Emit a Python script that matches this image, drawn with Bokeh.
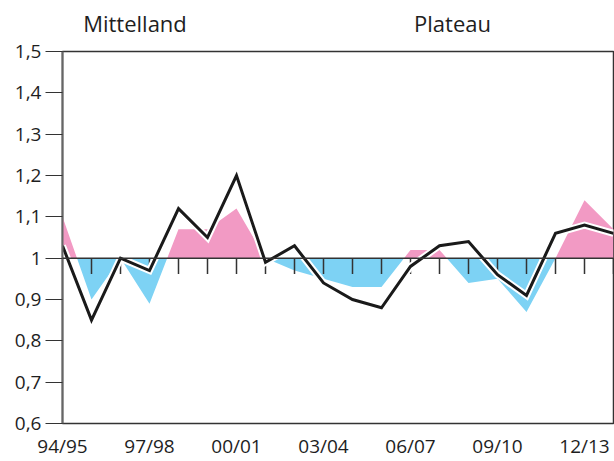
import numpy as np
from bokeh.plotting import figure
from bokeh.models import Range1d, FixedTicker, Span, ColumnDataSource, LinearAxis
from bokeh.embed import file_html
from bokeh.resources import INLINE

# ---- data ----
years = ["94/95", "95/96", "96/97", "97/98", "98/99", "99/00", "00/01", "01/02",
         "02/03", "03/04", "04/05", "05/06", "06/07", "07/08", "08/09", "09/10",
         "10/11", "11/12", "12/13", "13/14"]
mittelland = [1.10, 0.90, 1.00, 0.89, 1.07, 1.07, 1.12, 1.00, 0.97, 0.95,
              0.93, 0.93, 1.02, 1.02, 0.94, 0.95, 0.87, 1.00, 1.14, 1.07]
plateau = [1.03, 0.85, 1.00, 0.97, 1.12, 1.05, 1.20, 0.99, 1.03, 0.94,
           0.90, 0.88, 0.98, 1.03, 1.04, 0.96, 0.91, 1.06, 1.08, 1.06]
y_ticks = [0.6, 0.7, 0.8, 0.9, 1.0, 1.1, 1.2, 1.3, 1.4, 1.5]
y_tick_labels = ["0,6", "0,7", "0,8", "0,9", "1", "1,1", "1,2", "1,3", "1,4", "1,5"]
x_tick_idx = [0, 3, 6, 9, 12, 15, 18]
series_names = ["Mittelland", "Plateau"]
series_name_pos = [2.5, 13.45]
baseline = 1.0

PINK = "#F29AC4"
BLUE = "#7DD2F4"
TXT = "#1e1e1e"
FONT = "Open Sans"

xs = np.arange(len(years), dtype=float)
vs = np.array(mittelland)

# insert crossing points with baseline
xx, yy = [xs[0]], [vs[0]]
for i in range(1, len(xs)):
    a, b = vs[i - 1] - baseline, vs[i] - baseline
    if a * b < 0:
        t = a / (a - b)
        xx.append(xs[i - 1] + t)
        yy.append(baseline)
    xx.append(xs[i])
    yy.append(vs[i])
xx = np.array(xx)
yy = np.array(yy)

p = figure(width=614, height=461, output_backend="svg", toolbar_location=None,
           x_range=Range1d(0, len(years) - 1), y_range=Range1d(0.6, 1.5),
           min_border_left=62, min_border_right=1, min_border_top=51, min_border_bottom=35)
p.background_fill_color = "white"
p.border_fill_color = "white"
p.xgrid.visible = False
p.ygrid.visible = False
p.outline_line_color = "#333333"
p.outline_line_width = 1.5

src = ColumnDataSource(dict(x=xx, top=np.maximum(yy, baseline), bot=np.minimum(yy, baseline),
                            base=np.full(len(xx), baseline)))
p.varea(x="x", y1="base", y2="top", source=src, fill_color=PINK)
p.varea(x="x", y1="bot", y2="base", source=src, fill_color=BLUE)

# baseline line and year ticks
p.add_layout(Span(location=baseline, dimension="width", line_color="#333333", line_width=1.5))
tick_len = 16 / 416.0
p.segment(x0=xs[1:], y0=baseline, x1=xs[1:], y1=baseline - tick_len,
          line_color="#333333", line_width=1.5)

# line with white halo
p.line(xs, plateau, line_color="white", line_width=7, line_join="miter")
p.line(xs, plateau, line_color="#1a1a1a", line_width=3, line_join="miter")

# axes
ya = p.yaxis[0]
ya.ticker = FixedTicker(ticks=y_ticks)
ya.major_label_overrides = {t: l for t, l in zip(y_ticks, y_tick_labels)}
ya.major_tick_out = 17
ya.major_tick_in = 0
ya.minor_tick_out = 0
ya.minor_tick_in = 0
ya.major_tick_line_color = "#333333"
ya.major_tick_line_width = 1.2
ya.axis_line_color = "#666666"
ya.axis_line_width = 2
ya.major_label_standoff = 4
ya.major_label_text_font = FONT
ya.major_label_text_font_size = "19px"
ya.major_label_text_color = TXT

xa = p.xaxis[0]
xa.ticker = FixedTicker(ticks=x_tick_idx)
xa.major_label_overrides = {i: years[i] for i in x_tick_idx}
xa.major_tick_out = 0
xa.major_tick_in = 0
xa.minor_tick_out = 0
xa.minor_tick_in = 0
xa.axis_line_color = None
xa.major_label_standoff = 9
xa.major_label_text_font = FONT
xa.major_label_text_font_size = "19px"
xa.major_label_text_color = TXT

# panel titles as a top axis
ta = LinearAxis(ticker=FixedTicker(ticks=series_name_pos),
                major_label_overrides={v: n for v, n in zip(series_name_pos, series_names)})
ta.major_tick_out = 0
ta.major_tick_in = 0
ta.minor_tick_out = 0
ta.minor_tick_in = 0
ta.axis_line_color = None
ta.major_label_standoff = 14
ta.major_label_text_font = FONT
ta.major_label_text_font_size = "22px"
ta.major_label_text_color = TXT
p.add_layout(ta, "above")

open("out.html", "w").write(file_html(p, INLINE))
